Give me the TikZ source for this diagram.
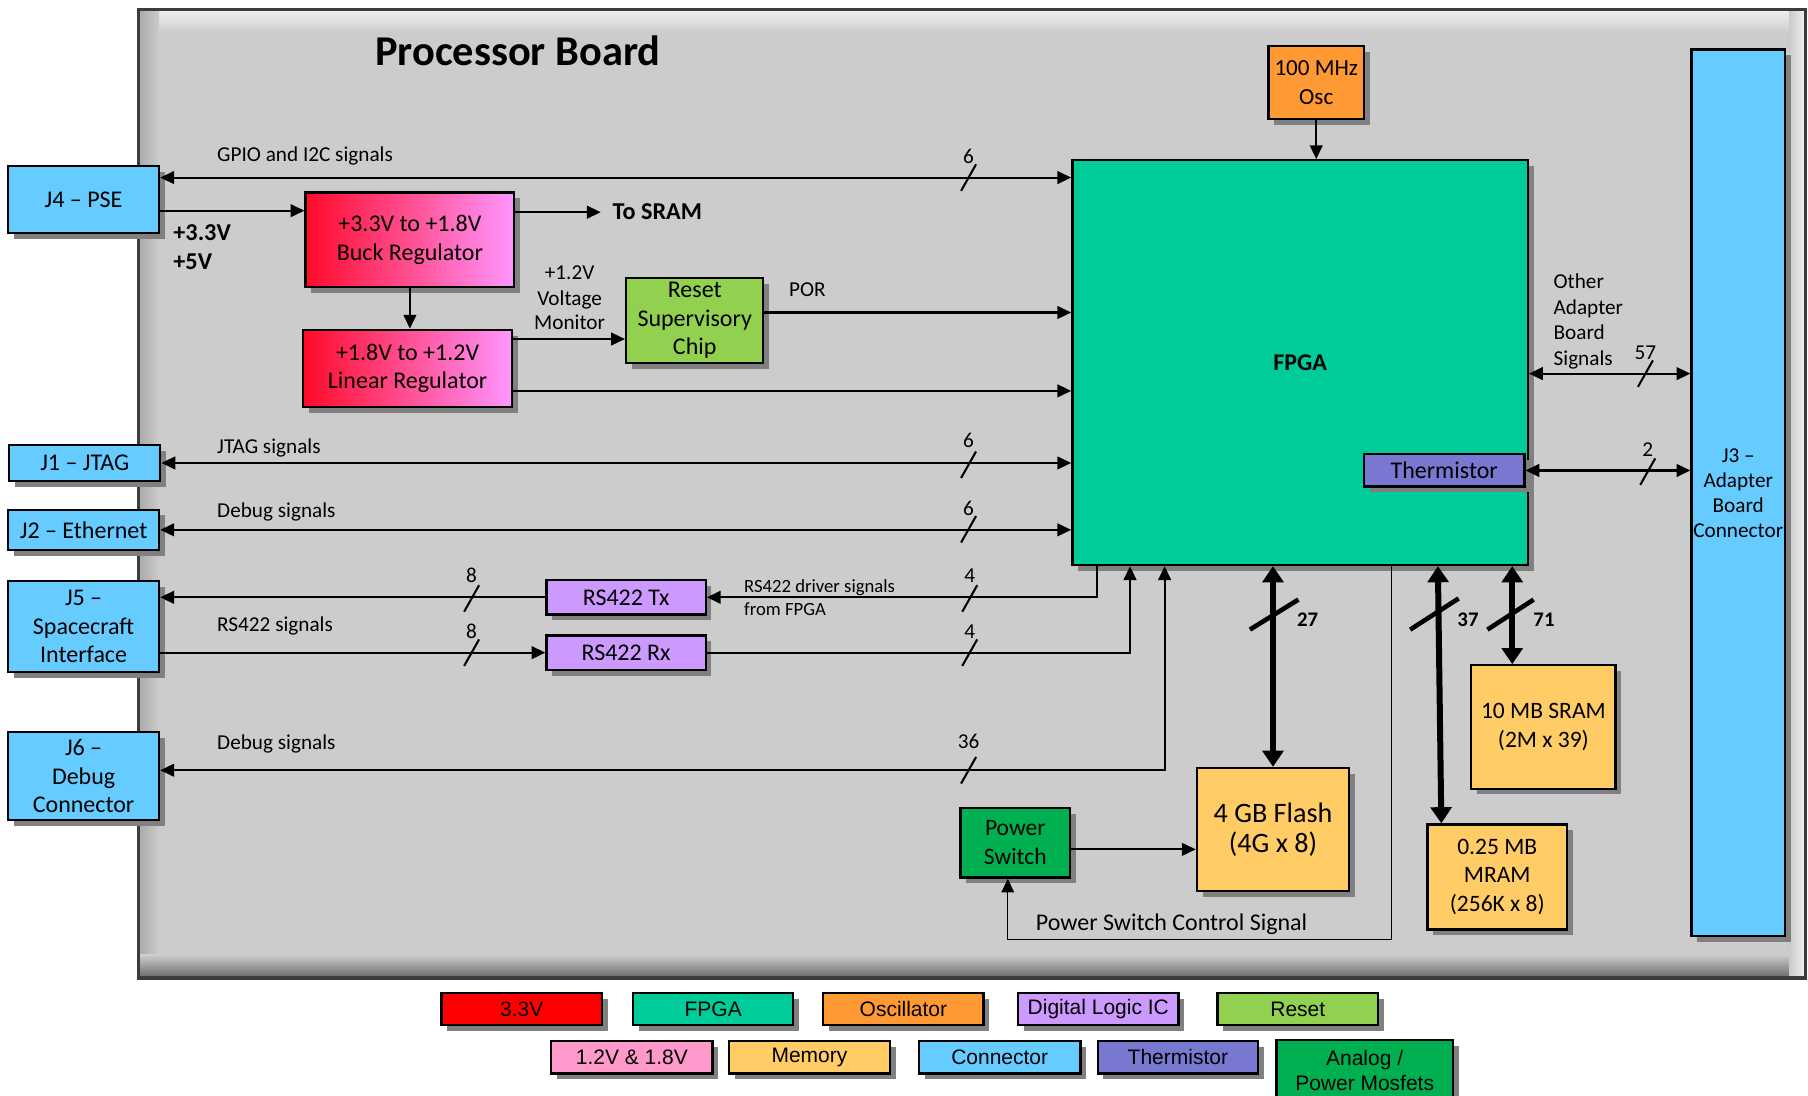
\documentclass[tikz,border=0pt]{standalone}
\usepackage{fontspec}
\setmainfont{Carlito}
\newfontfamily\legfont{Liberation Sans}
\usetikzlibrary{arrows.meta,shadows}

\definecolor{boardgray}{RGB}{204,204,204}
\definecolor{bevlight}{RGB}{240,240,240}
\definecolor{bevmid}{RGB}{170,170,170}
\definecolor{bevdark}{RGB}{110,110,110}
\definecolor{framegray}{RGB}{60,60,60}
\definecolor{shadgray}{RGB}{128,128,128}
\definecolor{conblue}{RGB}{102,204,255}
\definecolor{fpgagreen}{RGB}{0,204,153}
\definecolor{oscorange}{RGB}{255,153,51}
\definecolor{logicviolet}{RGB}{204,153,255}
\definecolor{resetgreen}{RGB}{146,208,80}
\definecolor{lowvpink}{RGB}{255,153,204}
\definecolor{memyellow}{RGB}{255,204,102}
\definecolor{thermblue}{RGB}{120,120,208}
\definecolor{analoggreen}{RGB}{0,176,80}
\definecolor{regred}{RGB}{255,10,40}
\definecolor{regpink}{RGB}{255,150,255}

\newcommand{\bmark}[5]{%
  \draw[conn] (#2-6.5,#3+11.5) -- (#2+6.5,#3-11.5);
  \node[num] (#1) at (#2,#5) {#4};}

\begin{document}
\begin{tikzpicture}[x=0.5pt,y=-0.5pt,
  >={Triangle[length=6pt,width=5.5pt]},
  rect/.style args={#1/#2/#3/#4}{at={({(#1+#3)/2},{(#2+#4)/2})},
    minimum width={(#3-#1)*0.5pt},minimum height={(#4-#2)*0.5pt}},
  shad/.style={drop shadow={shadow xshift=2.5pt,shadow yshift=-2.5pt,fill=shadgray,opacity=1}},
  blk/.style={draw=black,line width=1pt,inner sep=0pt,align=center,shad,
    font=\fontsize{10.4}{12.4}\selectfont},
  leg/.style={draw=black,line width=1pt,inner sep=0pt,align=center,shad,
    font=\legfont\fontsize{9.1}{10.6}\selectfont},
  lab/.style={anchor=base west,inner sep=0pt,font=\fontsize{9.2}{11}\selectfont},
  clab/.style={anchor=base,inner sep=0pt,font=\fontsize{9.2}{11}\selectfont},
  num/.style={anchor=base,inner sep=0pt,font=\fontsize{9.2}{11}\selectfont},
  bnum/.style={anchor=base west,inner sep=0pt,font=\fontsize{9}{11}\selectfont\bfseries},
  conn/.style={line width=0.9pt},
  psc/.style={line width=0.6pt},
  bigarr/.style={line width=2.6pt,{Triangle[length=7pt,width=9pt]}-{Triangle[length=7pt,width=9pt]}},
  bigslash/.style={line width=2pt}
]
\useasboundingbox (0,0) rectangle (1568,950);
\fill[white] (0,0) rectangle (1568,950);

% board
\fill[boardgray] (120,8) rectangle (1566,848);
\shade[top color=bevlight,bottom color=boardgray] (121,9) rectangle (1565,28);
\shade[left color=bevmid,right color=boardgray] (121,9) rectangle (138,847);
\shade[top color=boardgray,bottom color=bevdark] (121,828) rectangle (1565,847);
\shade[left color=boardgray,right color=bevlight] (1552,9) rectangle (1565,847);
\draw[framegray,line width=1.5pt] (120,8) rectangle (1566,848);

\node[anchor=base west,inner sep=0pt,font=\fontsize{18.4}{22}\selectfont\bfseries] (title) at (325,56.4) {Processor Board};

% coordinates
\coordinate (ygpio) at (0,154);
\coordinate (yin) at (0,182.7);
\coordinate (ysram) at (0,184);
\coordinate (sramtip) at (521,184);
\coordinate (ypor) at (0,271);
\coordinate (ymon) at (0,294);
\coordinate (ylin) at (0,339);
\coordinate (yoth) at (0,324);
\coordinate (xtx) at (951,0);
\coordinate (xrx) at (980,0);
\coordinate (xdbg) at (1010,0);
\coordinate (ydbg) at (0,668);
\coordinate (xpsc) at (1207,0);
\coordinate (pscturn) at (874,815);
\coordinate (ypsw) at (0,736.6);
\coordinate (xsram) at (1311.5,0);
\coordinate (xmtop) at (1247,0);
\coordinate (xmbot) at (1250,0);

% boxes
\node[blk,fill=conblue,rect=7/144/138/202] (j4) {J4 – PSE};
\node[blk,left color=regred,right color=regpink,rect=265/167/446/249] (buck) {+3.3V to +1.8V\\Buck Regulator};
\node[blk,left color=regred,right color=regpink,rect=263/286/444/353] (lin) {+1.8V to +1.2V\\Linear Regulator};
\node[blk,fill=resetgreen,rect=543/241/662/315] (reset) {Reset\\Supervisory\\Chip};
\node[blk,fill=fpgagreen,rect=930/139/1325/490] (fpga) {\textbf{FPGA}};
\node[blk,fill=oscorange,rect=1100/40/1183/103,font=\fontsize{10}{12.5}\selectfont] (osc) {100 MHz\\Osc};
\node[blk,fill=conblue,rect=1467/43/1548/812,font=\fontsize{9.2}{10.8}\selectfont] (j3) {J3 –\\Adapter\\Board\\Connector};
\node[blk,fill=thermblue,rect=1183/394/1322/422] (therm) {Thermistor};
\node[blk,fill=conblue,rect=8/386/139/417] (j1) {J1 – JTAG};
\node[blk,fill=conblue,rect=7/442/138/477] (j2) {J2 – Ethernet};
\node[blk,fill=conblue,rect=7/504/138/583] (j5) {J5 –\\Spacecraft\\Interface};
\node[blk,fill=logicviolet,rect=474/503/612/533] (tx) {RS422 Tx};
\node[blk,fill=logicviolet,rect=474/551/612/581] (rx) {RS422 Rx};
\node[blk,fill=conblue,rect=7/635/138/711,font=\fontsize{10.4}{12.5}\selectfont] (j6) {J6 –\\Debug\\Connector};
\node[blk,fill=analoggreen,rect=833/701/928/761,font=\fontsize{10.2}{12.5}\selectfont] (psw) {Power\\Switch};
\node[blk,fill=memyellow,rect=1038/666/1170/773,font=\fontsize{12.2}{12.9}\selectfont] (flash) {4 GB Flash\\(4G x 8)};
\node[blk,fill=memyellow,rect=1276/577/1401/684,font=\fontsize{10.2}{12.8}\selectfont] (sram) {10 MB SRAM\\(2M x 39)};
\node[blk,fill=memyellow,rect=1238/715/1359/806,font=\fontsize{10.2}{12.5}\selectfont] (mram) {0.25 MB\\MRAM\\(256K x 8)};

% connectors
\draw[conn,<->] (j4.east |- ygpio) -- (fpga.west |- ygpio);
\draw[conn,->] (j4.east |- yin) -- (buck.west |- yin);
\draw[conn,->] (buck.east |- ysram) -- (sramtip);
\draw[conn,->] (buck.south) -- (lin.north -| buck.south);
\draw[conn,->] (lin.east |- ymon) -- (reset.west |- ymon);
\draw[conn,->] (reset.east |- ypor) -- (fpga.west |- ypor);
\draw[conn,->] (lin.east |- ylin) -- (fpga.west |- ylin);
\draw[conn,->] (osc.south) -- (fpga.north -| osc.south);
\draw[conn,<->] (fpga.east |- yoth) -- (j3.west |- yoth);
\draw[conn,<->] (therm.east) -- (j3.west |- therm.east);
\draw[conn,<->] (j1.east) -- (fpga.west |- j1.east);
\draw[conn,<->] (j2.east) -- (fpga.west |- j2.east);
\draw[conn,->] (tx.west) -- (j5.east |- tx.west);
\draw[conn,->] (fpga.south -| xtx) |- (tx.east);
\draw[conn,->] (j5.east |- rx.west) -- (rx.west);
\draw[conn,->] (rx.east) -| (fpga.south -| xrx);
\draw[conn,<->] (j6.east |- ydbg) -| (fpga.south -| xdbg);
\draw[psc,->] (fpga.south -| xpsc) |- (pscturn) -- (psw.south -| pscturn);
\draw[conn,->] (psw.east |- ypsw) -- (flash.west |- ypsw);
\draw[bigarr] (fpga.south -| flash.north) -- (flash.north);
\draw[bigarr] (fpga.south -| xsram) -- (sram.north -| xsram);
\draw[bigarr] (fpga.south -| xmtop) -- (mram.north -| xmbot);

% bus marks
\bmark{ngpio}{840}{154}{6}{142}
\bmark{njtag}{840}{403}{6}{388}
\bmark{neth}{840}{459}{6}{447}
\bmark{ntxa}{409}{519}{8}{505}
\bmark{ntxb}{841}{519}{4}{505}
\bmark{nrxa}{409}{566}{8}{554}
\bmark{nrxb}{841}{566}{4}{554}
\bmark{ndbg}{840}{668}{36}{649.5}
\bmark{noth}{1427}{324}{57}{312}
\bmark{nth}{1429}{409}{2}{395.5}

\draw[bigslash] (1084,546) -- (1126,520);
\draw[bigslash] (1223,546) -- (1265,519);
\draw[bigslash] (1290,546) -- (1330,520);
\node[bnum] (n27) at (1124.5,543) {27};
\node[bnum] (n37) at (1263.6,543) {37};
\node[bnum] (n71) at (1329.5,543) {71};

% labels
\node[lab] (tgpio) at (188,140) {GPIO and I2C signals};
\node[lab,font=\fontsize{10.5}{12}\selectfont\bfseries] (tv33) at (150,208.7) {+3.3V};
\node[lab,font=\fontsize{10.5}{12}\selectfont\bfseries] (tv5) at (150,234) {+5V};
\node[lab,font=\fontsize{10.5}{12}\selectfont\bfseries] (tosram) at (531,190) {To SRAM};
\node[clab] (tmon1) at (494,242) {+1.2V};
\node[clab] (tmon2) at (494,264.5) {Voltage};
\node[clab] (tmon3) at (494,286) {Monitor};
\node[lab] (tpor) at (684,257.5) {POR};
\node[lab] (toth1) at (1347,250) {Other};
\node[lab] (toth2) at (1347,272.6) {Adapter};
\node[lab] (toth3) at (1347,294.3) {Board};
\node[lab] (toth4) at (1347,316.6) {Signals};
\node[lab] (tjtag) at (188,393) {JTAG signals};
\node[lab] (teth) at (188,448.5) {Debug signals};
\node[lab,font=\fontsize{8.1}{10}\selectfont] (tdrv1) at (645,513.7) {RS422 driver signals};
\node[lab,font=\fontsize{8.1}{10}\selectfont] (tdrv2) at (645,533.4) {from FPGA};
\node[lab] (trs) at (188,548) {RS422 signals};
\node[lab] (tdbg) at (188,650) {Debug signals};
\node[lab,font=\fontsize{10.4}{12}\selectfont] (tpsc) at (898,807) {Power Switch Control Signal};

% legend
\node[leg,fill=red,rect=383/861/522/889] (l1) {3.3V};
\node[leg,fill=fpgagreen,rect=549/861/688/889] (l2) {FPGA};
\node[leg,fill=oscorange,rect=714/861/853/889] (l3) {Oscillator};
\node[leg,fill=logicviolet,rect=883/861/1022/889] (l4) {Digital Logic IC};
\node[leg,fill=resetgreen,rect=1056/861/1195/889] (l5) {Reset};
\node[leg,fill=lowvpink,rect=478/903/618/931] (l6) {1.2V \& 1.8V};
\node[leg,fill=memyellow,rect=632/903/772/931] (l7) {Memory};
\node[leg,fill=conblue,rect=797/903/937/931] (l8) {Connector};
\node[leg,fill=thermblue,rect=952/903/1091/931] (l9) {Thermistor};
\node[leg,fill=analoggreen,rect=1107/902/1260/955] (l10) {Analog /\\Power Mosfets};
\end{tikzpicture}
\end{document}
